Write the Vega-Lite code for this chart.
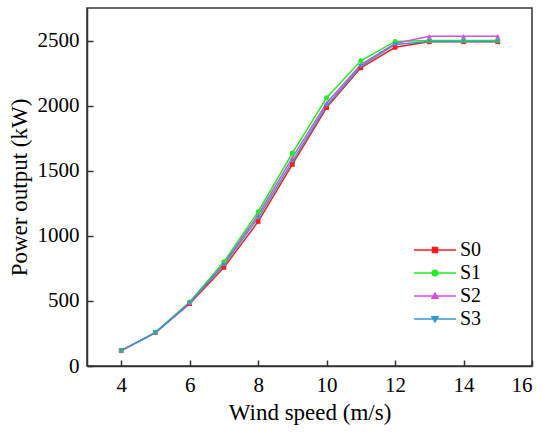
{
  "$schema": "https://vega.github.io/schema/vega-lite/v6.json",
  "width": 445,
  "height": 358,
  "autosize": {"type": "none"},
  "padding": {"left": 87, "top": 8, "right": 18, "bottom": 75},
  "background": "white",
  "data": {
    "values": [
      {"speed": 4, "series": "S0", "power": 118},
      {"speed": 5, "series": "S0", "power": 256},
      {"speed": 6, "series": "S0", "power": 478},
      {"speed": 7, "series": "S0", "power": 757},
      {"speed": 8, "series": "S0", "power": 1110},
      {"speed": 9, "series": "S0", "power": 1548},
      {"speed": 10, "series": "S0", "power": 1985},
      {"speed": 11, "series": "S0", "power": 2290},
      {"speed": 12, "series": "S0", "power": 2448},
      {"speed": 13, "series": "S0", "power": 2490},
      {"speed": 14, "series": "S0", "power": 2490},
      {"speed": 15, "series": "S0", "power": 2490},
      {"speed": 4, "series": "S1", "power": 118},
      {"speed": 5, "series": "S1", "power": 258},
      {"speed": 6, "series": "S1", "power": 492},
      {"speed": 7, "series": "S1", "power": 800},
      {"speed": 8, "series": "S1", "power": 1185},
      {"speed": 9, "series": "S1", "power": 1635},
      {"speed": 10, "series": "S1", "power": 2060},
      {"speed": 11, "series": "S1", "power": 2345},
      {"speed": 12, "series": "S1", "power": 2493},
      {"speed": 13, "series": "S1", "power": 2500},
      {"speed": 14, "series": "S1", "power": 2500},
      {"speed": 15, "series": "S1", "power": 2500},
      {"speed": 4, "series": "S2", "power": 118},
      {"speed": 5, "series": "S2", "power": 257},
      {"speed": 6, "series": "S2", "power": 486},
      {"speed": 7, "series": "S2", "power": 785},
      {"speed": 8, "series": "S2", "power": 1160},
      {"speed": 9, "series": "S2", "power": 1600},
      {"speed": 10, "series": "S2", "power": 2020},
      {"speed": 11, "series": "S2", "power": 2315},
      {"speed": 12, "series": "S2", "power": 2478},
      {"speed": 13, "series": "S2", "power": 2533},
      {"speed": 14, "series": "S2", "power": 2533},
      {"speed": 15, "series": "S2", "power": 2533},
      {"speed": 4, "series": "S3", "power": 118},
      {"speed": 5, "series": "S3", "power": 256},
      {"speed": 6, "series": "S3", "power": 487},
      {"speed": 7, "series": "S3", "power": 777},
      {"speed": 8, "series": "S3", "power": 1138},
      {"speed": 9, "series": "S3", "power": 1572},
      {"speed": 10, "series": "S3", "power": 2000},
      {"speed": 11, "series": "S3", "power": 2302},
      {"speed": 12, "series": "S3", "power": 2470},
      {"speed": 13, "series": "S3", "power": 2493},
      {"speed": 14, "series": "S3", "power": 2493},
      {"speed": 15, "series": "S3", "power": 2493}
    ]
  },
  "encoding": {
    "x": {
      "field": "speed",
      "type": "quantitative",
      "title": "Wind speed (m/s)",
      "scale": {"domain": [3, 16], "nice": false, "zero": false},
      "axis": {"values": [4, 6, 8, 10, 12, 14, 16], "titlePadding": 6}
    },
    "y": {
      "field": "power",
      "type": "quantitative",
      "title": "Power output (kW)",
      "scale": {"domain": [0, 2750], "nice": false},
      "axis": {"values": [0, 500, 1000, 1500, 2000, 2500], "format": "d", "titlePadding": 6}
    },
    "color": {
      "field": "series",
      "type": "nominal",
      "scale": {
        "domain": ["S0", "S1", "S2", "S3"],
        "range": ["#ff1a1a", "#1ef01e", "#d84fe0", "#3399d2"]
      },
      "legend": {
        "title": null,
        "orient": "none",
        "legendX": 338,
        "legendY": 232,
        "padding": 0,
        "symbolSize": 100,
        "symbolOpacity": 1,
        "symbolStrokeWidth": 1.5,
        "labelOffset": 15,
        "rowPadding": 3,
        "labelFont": "Liberation Serif",
        "labelFontSize": 20,
        "labelColor": "black"
      }
    }
  },
  "layer": [
    {"mark": {"type": "line", "strokeWidth": 1.5}},
    {
      "transform": [{"filter": "datum.series == 'S0'"}],
      "mark": {"type": "point", "shape": "square", "filled": true, "size": 22, "opacity": 1}
    },
    {
      "transform": [{"filter": "datum.series == 'S1'"}],
      "mark": {"type": "point", "shape": "circle", "filled": true, "size": 26, "opacity": 1}
    },
    {
      "transform": [{"filter": "datum.series == 'S2'"}],
      "mark": {"type": "point", "shape": "triangle-up", "filled": true, "size": 26, "opacity": 1}
    },
    {
      "transform": [{"filter": "datum.series == 'S3'"}],
      "mark": {"type": "point", "shape": "triangle-down", "filled": true, "size": 26, "opacity": 1}
    },
    {
      "mark": {"type": "point", "filled": true, "opacity": 0},
      "encoding": {
        "shape": {
          "field": "series",
          "type": "nominal",
          "scale": {
            "domain": ["S0", "S1", "S2", "S3"],
            "range": [
              "M-4.2,0H4.2M-0.5,-0.5H0.5V0.5H-0.5Z",
              "M-4.2,0H4.2M0.55,0A0.55,0.55,0,1,1,-0.55,0A0.55,0.55,0,1,1,0.55,0Z",
              "M-4.2,0H4.2M0,-0.6L0.6,0.45H-0.6Z",
              "M-4.2,0H4.2M0,0.6L0.6,-0.45H-0.6Z"
            ]
          },
          "legend": {
            "title": null,
            "orient": "none",
            "legendX": 338,
            "legendY": 232,
            "padding": 0,
            "symbolSize": 100,
            "symbolOpacity": 1,
            "symbolStrokeWidth": 1.5,
            "labelOffset": 15,
            "rowPadding": 3,
            "labelFont": "Liberation Serif",
            "labelFontSize": 20,
            "labelColor": "black"
          }
        }
      }
    }
  ],
  "config": {
    "view": {"stroke": "#333", "strokeWidth": 1.5},
    "axis": {
      "grid": false,
      "domainColor": "#333",
      "domainWidth": 1.5,
      "tickColor": "#333",
      "tickWidth": 1.5,
      "tickSize": -6,
      "labelFont": "Liberation Serif",
      "labelFontSize": 21,
      "labelColor": "black",
      "labelPadding": 14,
      "titleFont": "Liberation Serif",
      "titleFontSize": 23,
      "titleFontWeight": "normal",
      "titleColor": "black"
    }
  }
}
